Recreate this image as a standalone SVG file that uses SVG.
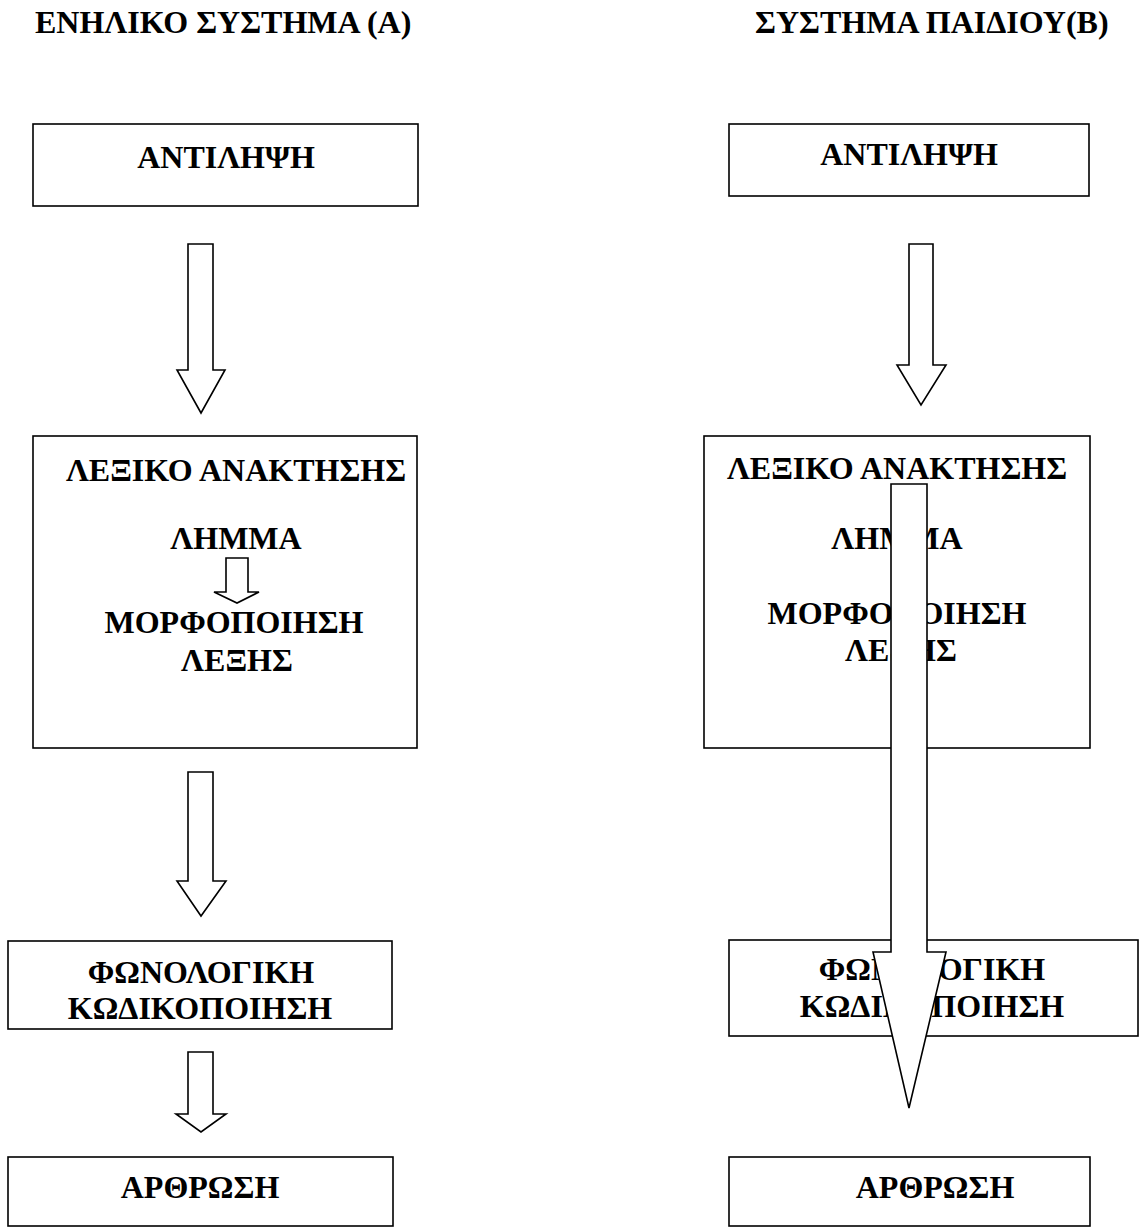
<svg xmlns="http://www.w3.org/2000/svg" width="1141" height="1228" viewBox="0 0 1141 1228">
<style>
.box{fill:#fff;stroke:#000;stroke-width:1.6}
.arr{fill:#fff;stroke:#000;stroke-width:1.6;stroke-linejoin:miter}
text{font-family:"Liberation Serif","Times New Roman",serif;font-weight:bold;font-size:32px;fill:#000}
.c{text-anchor:middle}
</style>
<rect width="1141" height="1228" fill="#fff"/>
<g id="titles">
<text x="35" y="33">ΕΝΗΛΙΚΟ ΣΥΣΤΗΜΑ (Α)</text>
<text x="755" y="33">ΣΥΣΤΗΜΑ ΠΑΙΔΙΟΥ(Β)</text>
</g>
<g id="a-antilipsi"><rect class="box" x="33" y="124" width="385" height="82"/><text class="c" x="226" y="168">ΑΝΤΙΛΗΨΗ</text></g>
<g id="a-lexiko"><rect class="box" x="33" y="436" width="384" height="312"/>
<text class="c" x="236" y="481">ΛΕΞΙΚΟ ΑΝΑΚΤΗΣΗΣ</text>
<text class="c" x="236" y="549">ΛΗΜΜΑ</text>
<text class="c" x="234" y="633">ΜΟΡΦΟΠΟΙΗΣΗ</text>
<text class="c" x="237" y="671">ΛΕΞΗΣ</text></g>
<g id="a-fonologiki"><rect class="box" x="8" y="941" width="384" height="88"/>
<text class="c" x="201" y="983">ΦΩΝΟΛΟΓΙΚΗ</text>
<text class="c" x="200" y="1019">ΚΩΔΙΚΟΠΟΙΗΣΗ</text></g>
<g id="a-arthrosi"><rect class="box" x="8" y="1157" width="385" height="69"/><text class="c" x="200" y="1198">ΑΡΘΡΩΣΗ</text></g>
<g id="b-antilipsi"><rect class="box" x="729" y="124" width="360" height="72"/><text class="c" x="909" y="165">ΑΝΤΙΛΗΨΗ</text></g>
<g id="b-lexiko"><rect class="box" x="704" y="436" width="386" height="312"/>
<text class="c" x="897" y="479">ΛΕΞΙΚΟ ΑΝΑΚΤΗΣΗΣ</text>
<text class="c" x="897" y="549">ΛΗΜΜΑ</text>
<text class="c" x="897" y="624">ΜΟΡΦΟΠΟΙΗΣΗ</text>
<text class="c" x="901" y="661">ΛΕΞΗΣ</text></g>
<g id="b-fonologiki"><rect class="box" x="729" y="940" width="409" height="96"/>
<text class="c" x="932" y="980">ΦΩΝΟΛΟΓΙΚΗ</text>
<text class="c" x="932" y="1017">ΚΩΔΙΚΟΠΟΙΗΣΗ</text></g>
<g id="b-arthrosi"><rect class="box" x="729" y="1157" width="361" height="69"/><text class="c" x="935" y="1198">ΑΡΘΡΩΣΗ</text></g>
<g id="connectors">
<polygon class="arr" points="188,244 213,244 213,370 225,370 201,413 177,370 188,370"/>
<polygon class="arr" points="226,558 248,558 248,592 259,592 237,603 214,592 226,592"/>
<polygon class="arr" points="188,772 213,772 213,881 226,881 201,916 177,881 188,881"/>
<polygon class="arr" points="188,1052 213,1052 213,1114 226,1114 201,1132 176,1114 188,1114"/>
<polygon class="arr" points="909,244 933,244 933,365 946,365 921,405 897,365 909,365"/>
<polygon class="arr" points="891,484 927,484 927,952 946,952 909,1108 873,952 891,952"/>
</g>
</svg>
